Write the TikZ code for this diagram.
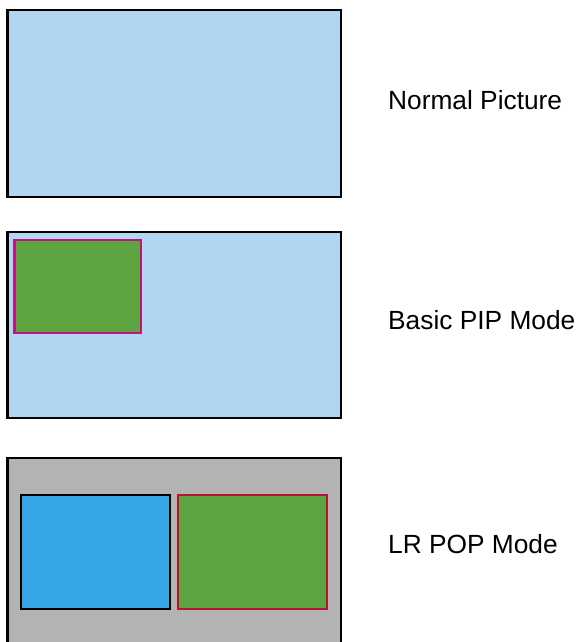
\documentclass[tikz,border=0pt]{standalone}
\usepackage{fontspec}
\setmainfont{Liberation Sans}
\definecolor{lightblue}{RGB}{176,214,242}
\definecolor{pipgreen}{RGB}{94,165,66}
\definecolor{pipmagenta}{RGB}{192,20,128}
\definecolor{popblue}{RGB}{54,165,230}
\definecolor{popgray}{RGB}{179,179,179}
\definecolor{popred}{RGB}{180,20,50}
\begin{document}
\begin{tikzpicture}[x=1pt,y=-1pt,
  screen/.style={draw=black,line width=2.5pt},
  win/.style={line width=2.2pt},
  lbl/.style={anchor=base west,inner sep=0pt,font=\fontsize{26.3}{30}\selectfont}]
\useasboundingbox (0,0) rectangle (581,642);
\clip (0,0) rectangle (581,642);
% Normal picture
\path[screen,fill=lightblue] (7.5,10) rectangle (341,197);
\node[lbl] (t1) at (388,109) {Normal Picture};
% Basic PIP
\path[screen,fill=lightblue] (7.5,232) rectangle (341,418);
\path[win,draw=pipmagenta,fill=pipgreen] (14.5,240) rectangle (141,333);
\node[lbl] (t2) at (388,329) {Basic PIP Mode};
% LR POP
\path[screen,fill=popgray] (7.5,458) rectangle (341,670);
\path[win,draw=black,fill=popblue] (21,495) rectangle (170,609);
\path[win,draw=popred,fill=pipgreen] (178,495) rectangle (327,609);
\node[lbl] (t3) at (388,553) {LR POP Mode};
\end{tikzpicture}
\end{document}
